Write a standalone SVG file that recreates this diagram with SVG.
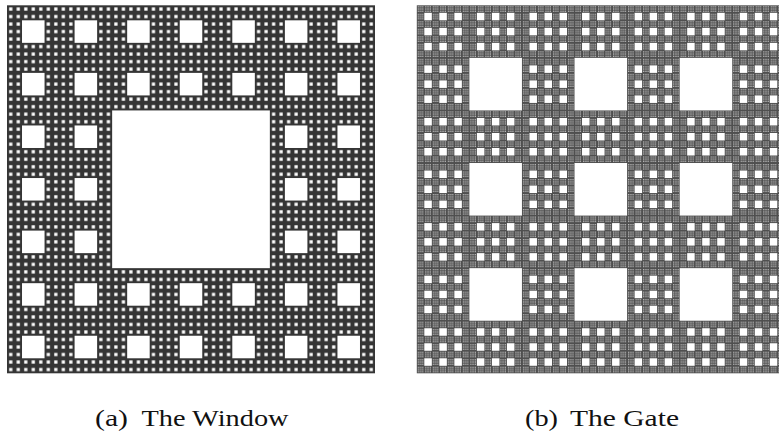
<svg xmlns="http://www.w3.org/2000/svg" xmlns:xlink="http://www.w3.org/1999/xlink" width="779" height="435" viewBox="0 0 779 435">
<style>
.hole{fill:#ffffff}
.cap{font-family:"Liberation Serif","Times New Roman",serif;font-size:24px;fill:#111}
</style>
<defs>
<pattern id="pw" patternUnits="userSpaceOnUse" x="7" y="5.3" width="7.5102" height="7.5102">
<rect width="7.5102" height="7.5102" fill="#353535"/>
<rect x="2.1458" y="2.1458" width="3.2187" height="3.2187" fill="#fff"/>
</pattern>
<pattern id="pg" patternUnits="userSpaceOnUse" x="416.8" y="5.3" width="7.5102" height="7.5102">
<rect width="7.5102" height="7.5102" fill="#4f4f4f"/>
<g fill="#e6e6e6">
<rect x="1.0729" y="1.0729" width="1.0729" height="1.0729"/>
<rect x="3.2187" y="1.0729" width="1.0729" height="1.0729"/>
<rect x="5.3644" y="1.0729" width="1.0729" height="1.0729"/>
<rect x="1.0729" y="3.2187" width="1.0729" height="1.0729"/>
<rect x="3.2187" y="3.2187" width="1.0729" height="1.0729"/>
<rect x="5.3644" y="3.2187" width="1.0729" height="1.0729"/>
<rect x="1.0729" y="5.3644" width="1.0729" height="1.0729"/>
<rect x="3.2187" y="5.3644" width="1.0729" height="1.0729"/>
<rect x="5.3644" y="5.3644" width="1.0729" height="1.0729"/>
</g>
</pattern>
<rect id="wh" x="0.285714" y="0.285714" width="0.428571" height="0.428571"/>
<g id="gh">
<rect x="0.142857" y="0.142857" width="0.142857" height="0.142857"/>
<rect x="0.428571" y="0.142857" width="0.142857" height="0.142857"/>
<rect x="0.714286" y="0.142857" width="0.142857" height="0.142857"/>
<rect x="0.142857" y="0.428571" width="0.142857" height="0.142857"/>
<rect x="0.428571" y="0.428571" width="0.142857" height="0.142857"/>
<rect x="0.714286" y="0.428571" width="0.142857" height="0.142857"/>
<rect x="0.142857" y="0.714286" width="0.142857" height="0.142857"/>
<rect x="0.428571" y="0.714286" width="0.142857" height="0.142857"/>
<rect x="0.714286" y="0.714286" width="0.142857" height="0.142857"/>
</g>
</defs>
<rect width="779" height="435" fill="#fff"/>

<g id="window">
<rect x="7" y="5.3" width="368" height="368" fill="url(#pw)"/>
<g class="hole" transform="translate(7,5.3) scale(52.5714)">
<rect x="2" y="2" width="3" height="3"/>
<use href="#wh" x="0" y="0"/><use href="#wh" x="1" y="0"/><use href="#wh" x="2" y="0"/><use href="#wh" x="3" y="0"/><use href="#wh" x="4" y="0"/><use href="#wh" x="5" y="0"/><use href="#wh" x="6" y="0"/>
<use href="#wh" x="0" y="1"/><use href="#wh" x="1" y="1"/><use href="#wh" x="2" y="1"/><use href="#wh" x="3" y="1"/><use href="#wh" x="4" y="1"/><use href="#wh" x="5" y="1"/><use href="#wh" x="6" y="1"/>
<use href="#wh" x="0" y="2"/><use href="#wh" x="1" y="2"/><use href="#wh" x="5" y="2"/><use href="#wh" x="6" y="2"/>
<use href="#wh" x="0" y="3"/><use href="#wh" x="1" y="3"/><use href="#wh" x="5" y="3"/><use href="#wh" x="6" y="3"/>
<use href="#wh" x="0" y="4"/><use href="#wh" x="1" y="4"/><use href="#wh" x="5" y="4"/><use href="#wh" x="6" y="4"/>
<use href="#wh" x="0" y="5"/><use href="#wh" x="1" y="5"/><use href="#wh" x="2" y="5"/><use href="#wh" x="3" y="5"/><use href="#wh" x="4" y="5"/><use href="#wh" x="5" y="5"/><use href="#wh" x="6" y="5"/>
<use href="#wh" x="0" y="6"/><use href="#wh" x="1" y="6"/><use href="#wh" x="2" y="6"/><use href="#wh" x="3" y="6"/><use href="#wh" x="4" y="6"/><use href="#wh" x="5" y="6"/><use href="#wh" x="6" y="6"/>
</g>
<text class="cap" x="95" y="426" textLength="33" lengthAdjust="spacingAndGlyphs">(a)</text>
<text class="cap" x="141.5" y="426" textLength="147" lengthAdjust="spacingAndGlyphs">The Window</text>
</g>

<g id="gate">
<rect x="416.8" y="5.3" width="368" height="368" fill="url(#pg)"/>
<g class="hole" transform="translate(416.8,5.3) scale(52.5714)">
<rect x="1" y="1" width="1" height="1"/><rect x="3" y="1" width="1" height="1"/><rect x="5" y="1" width="1" height="1"/>
<rect x="1" y="3" width="1" height="1"/><rect x="3" y="3" width="1" height="1"/><rect x="5" y="3" width="1" height="1"/>
<rect x="1" y="5" width="1" height="1"/><rect x="3" y="5" width="1" height="1"/><rect x="5" y="5" width="1" height="1"/>
<use href="#gh" x="0" y="0"/><use href="#gh" x="1" y="0"/><use href="#gh" x="2" y="0"/><use href="#gh" x="3" y="0"/><use href="#gh" x="4" y="0"/><use href="#gh" x="5" y="0"/><use href="#gh" x="6" y="0"/>
<use href="#gh" x="0" y="1"/><use href="#gh" x="2" y="1"/><use href="#gh" x="4" y="1"/><use href="#gh" x="6" y="1"/>
<use href="#gh" x="0" y="2"/><use href="#gh" x="1" y="2"/><use href="#gh" x="2" y="2"/><use href="#gh" x="3" y="2"/><use href="#gh" x="4" y="2"/><use href="#gh" x="5" y="2"/><use href="#gh" x="6" y="2"/>
<use href="#gh" x="0" y="3"/><use href="#gh" x="2" y="3"/><use href="#gh" x="4" y="3"/><use href="#gh" x="6" y="3"/>
<use href="#gh" x="0" y="4"/><use href="#gh" x="1" y="4"/><use href="#gh" x="2" y="4"/><use href="#gh" x="3" y="4"/><use href="#gh" x="4" y="4"/><use href="#gh" x="5" y="4"/><use href="#gh" x="6" y="4"/>
<use href="#gh" x="0" y="5"/><use href="#gh" x="2" y="5"/><use href="#gh" x="4" y="5"/><use href="#gh" x="6" y="5"/>
<use href="#gh" x="0" y="6"/><use href="#gh" x="1" y="6"/><use href="#gh" x="2" y="6"/><use href="#gh" x="3" y="6"/><use href="#gh" x="4" y="6"/><use href="#gh" x="5" y="6"/><use href="#gh" x="6" y="6"/>
</g>
<text class="cap" x="525" y="426" textLength="33" lengthAdjust="spacingAndGlyphs">(b)</text>
<text class="cap" x="570" y="426" textLength="109" lengthAdjust="spacingAndGlyphs">The Gate</text>
</g>
</svg>
